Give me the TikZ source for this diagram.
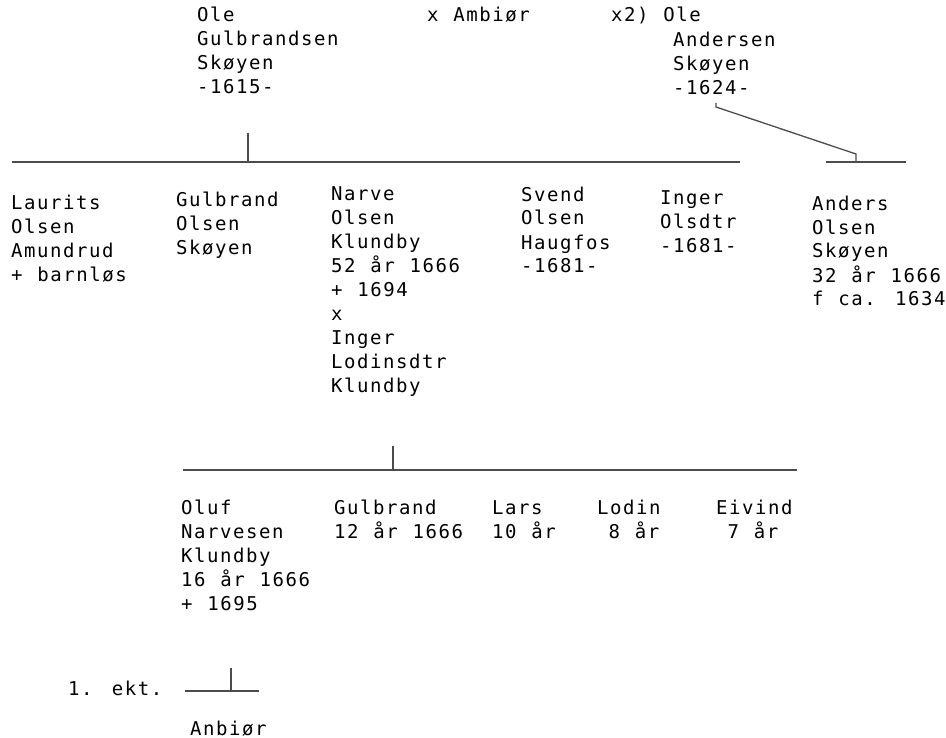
\documentclass[tikz,border=0pt]{standalone}
\usepackage{fontspec}
\newfontfamily\stamfont[LetterSpace=8.2,WordSpace=1.14]{DejaVu Sans Mono}
\begin{document}
\begin{tikzpicture}[x=1pt,y=-1pt,
    navn/.style={anchor=base west, align=left, inner sep=0pt,
      font=\stamfont\fontsize{19}{24}\selectfont},
    strek/.style={line width=1.3pt, black!70}]
  \useasboundingbox (0,0) rectangle (946,738);

  % foreldre (base = siste linje)
  \node[navn] (ole) at (197,94) {Ole\\Gulbrandsen\\Skøyen\\-1615-};
  \node[navn] (ambior) at (427,22) {x Ambiør};
  \node[navn] (ole2) at (611,22) {x2) Ole};
  \node[navn] (andersen) at (673,95) {Andersen\\Skøyen\\-1624-};

  % barn
  \node[navn] (laurits) at (11,282) {Laurits\\Olsen\\Amundrud\\+ barnløs};
  \node[navn] (gulbrand) at (176,255) {Gulbrand\\Olsen\\Skøyen};
  \node[navn] (narve) at (331,392) {Narve\\Olsen\\Klundby\\52 år 1666\\+ 1694\\x\\Inger\\Lodinsdtr\\Klundby};
  \node[navn] (svend) at (521,273) {Svend\\Olsen\\Haugfos\\-1681-};
  \node[navn] (inger) at (660,253) {Inger\\Olsdtr\\-1681-};
  \node[navn] (anders) at (812,306) {Anders\\Olsen\\Skøyen\\32 år 1666\\f ca. 1634};

  % barnebarn
  \node[navn] (oluf) at (181,610) {Oluf\\Narvesen\\Klundby\\16 år 1666\\+ 1695};
  \node[navn] (gulbrand2) at (334,538) {Gulbrand\\12 år 1666};
  \node[navn] (lars) at (492,538) {Lars\\10 år};
  \node[navn] (lodin) at (597,538) {Lodin\\\hphantom{8}8 år};
  \node[navn] (eivind) at (716,538) {Eivind\\\hphantom{7}7 år};

  \node[navn] (ekt) at (68,695) {1. ekt.};
  \node[navn] (anbior) at (190,735) {Anbiør};

  % streker
  \coordinate (s1a) at (12,162);
  \coordinate (s1b) at (740,162);
  \coordinate (t1) at (248,133);
  \draw[strek] (s1a) -- (s1b);
  \draw[strek] (t1) -- (t1 |- s1a);

  \coordinate (s2a) at (826,162);
  \coordinate (s2b) at (906,162);
  \coordinate (t2) at (716,103);
  \coordinate (k2) at (856,154);
  \draw[strek] (s2a) -- (s2b);
  \draw[strek] (t2) -- ++(0,4) -- (k2) -- (k2 |- s2a);

  \coordinate (s3a) at (183,470);
  \coordinate (s3b) at (797,470);
  \coordinate (t3) at (393,446);
  \draw[strek] (s3a) -- (s3b);
  \draw[strek] (t3) -- (t3 |- s3a);

  \coordinate (s4a) at (185,691);
  \coordinate (s4b) at (259,691);
  \coordinate (t4) at (231,668);
  \draw[strek] (s4a) -- (s4b);
  \draw[strek] (t4) -- (t4 |- s4a);
\end{tikzpicture}
\end{document}
